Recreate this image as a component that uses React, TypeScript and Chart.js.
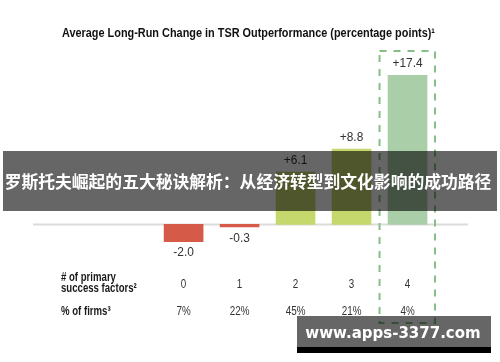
import React, { useEffect, useRef } from "react";
import { Chart, registerables } from "chart.js";

Chart.register(...registerables);

const TITLE = "Average Long-Run Change in TSR Outperformance (percentage points)¹";
const factorCounts = [0, 1, 2, 3, 4];
const factorLabels = ["0", "1", "2", "3", "4"];
const tsrChange = [-2.0, -0.3, 6.1, 8.8, 17.4];
const valueLabels = ["-2.0", "-0.3", "+6.1", "+8.8", "+17.4"];
const firmShares = ["7%", "22%", "45%", "21%", "4%"];
const barColors = ["#d65a48", "#d65a48", "#c5d86d", "#c5d86d", "#aacea8"];
const rowLabel1 = ["# of primary", "success factors²"];
const rowLabel2 = "% of firms³";
const highlightIndex = 4;
const BANNER = "罗斯托夫崛起的五大秘诀解析：从经济转型到文化影响的成功路径";
const WATERMARK = "www.apps-3377.com";

const SANS = "'Liberation Sans', Arial, sans-serif";

function narrowText(ctx: CanvasRenderingContext2D, text: string, x: number, y: number, sx: number, align: "left" | "center") {
  ctx.save();
  ctx.translate(x, y);
  ctx.scale(sx, 1);
  ctx.textAlign = align;
  ctx.fillText(text, 0, 0);
  ctx.restore();
}

const overlayPlugin = {
  id: "overlay",
  beforeDatasetsDraw(chart: any) {
    const { ctx, chartArea, scales } = chart;
    const y0 = scales.y.getPixelForValue(0);
    ctx.save();
    ctx.strokeStyle = "#dcdcdc";
    ctx.lineWidth = 2;
    ctx.beginPath();
    ctx.moveTo(chartArea.left, y0);
    ctx.lineTo(chartArea.right, y0);
    ctx.stroke();
    ctx.restore();
  },
  afterDatasetsDraw(chart: any) {
    const { ctx, scales } = chart;
    const xs = scales.x;
    ctx.save();
    ctx.textBaseline = "middle";
    // title
    ctx.fillStyle = "#111";
    ctx.font = `bold 13.5px ${SANS}`;
    const tw = ctx.measureText(TITLE).width;
    narrowText(ctx, TITLE, 62, 33, 373 / tw, "left");

    // value labels
    ctx.font = `13.5px ${SANS}`;
    ctx.fillStyle = "#333";
    const meta = chart.getDatasetMeta(0);
    meta.data.forEach((bar: any, i: number) => {
      const v = tsrChange[i];
      const y = v >= 0 ? bar.y - 12 : bar.y + 11;
      narrowText(ctx, valueLabels[i], bar.x, y, 0.88, "center");
    });

    // dashed highlight
    const cx = xs.getPixelForValue(factorCounts[highlightIndex]);
    ctx.strokeStyle = "#86bf86";
    ctx.lineWidth = 2;
    ctx.setLineDash([7, 7]);
    ctx.strokeRect(cx - 28, 51, 55.5, 272);
    ctx.setLineDash([]);

    // table
    ctx.fillStyle = "#1a1a1a";
    ctx.font = `bold 12px ${SANS}`;
    narrowText(ctx, rowLabel1[0], 61, 278, 0.8, "left");
    narrowText(ctx, rowLabel1[1], 61, 289, 0.8, "left");
    narrowText(ctx, rowLabel2, 61, 312, 0.8, "left");
    ctx.fillStyle = "#333";
    ctx.font = `12px ${SANS}`;
    factorCounts.forEach((c, i) => {
      const x = xs.getPixelForValue(c);
      narrowText(ctx, factorLabels[i], x, 285, 0.82, "center");
      narrowText(ctx, firmShares[i], x, 312, 0.82, "center");
    });
    ctx.restore();
  },
  afterDraw(chart: any) {
    const { ctx } = chart;
    ctx.save();
    ctx.fillStyle = "rgba(0,0,0,0.6)";
    ctx.fillRect(3, 151, 494, 60);
    ctx.fillStyle = "#fff";
    ctx.font = "bold 16.8px 'Noto Sans CJK SC', sans-serif";
    ctx.textAlign = "center";
    ctx.textBaseline = "middle";
    ctx.fillText(BANNER, 248, 182);

    ctx.fillStyle = "rgba(0,0,0,0.6)";
    ctx.fillRect(297, 316, 194, 31);
    ctx.fillStyle = "#000";
    ctx.fillRect(297, 347, 194, 6);
    ctx.fillStyle = "#fff";
    ctx.font = "bold 15px 'DejaVu Sans', sans-serif";
    ctx.fillText(WATERMARK, 393, 334);
    ctx.restore();
  },
};

export default function App() {
  const ref = useRef<HTMLCanvasElement | null>(null);
  useEffect(() => {
    if (!ref.current) return;
    const chart = new Chart(ref.current, {
      type: "bar",
      data: {
        datasets: [
          {
            data: factorCounts.map((c, i) => ({ x: c, y: tsrChange[i] })),
            backgroundColor: barColors,
            barThickness: 39,
            borderWidth: 0,
          },
        ],
      },
      options: {
        animation: false,
        responsive: false,
        maintainAspectRatio: false,
        devicePixelRatio: 1,
        layout: { padding: { left: 33, right: 32, top: 53, bottom: 69 } },
        plugins: { legend: { display: false }, tooltip: { enabled: false }, title: { display: false } },
        scales: {
          x: { type: "linear", min: -2.69, max: 5.08, offset: false, display: false, grid: { display: false } },
          y: { min: -8, max: 20, display: false, grid: { display: false } },
        },
      },
      plugins: [overlayPlugin],
    });
    return () => chart.destroy();
  }, []);
  return (
    <div style={{ position: "absolute", left: 0, top: 0, width: 500, height: 362, background: "#fff" }}>
      <canvas ref={ref} width={500} height={362} style={{ width: 500, height: 362, display: "block" }} />
    </div>
  );
}
